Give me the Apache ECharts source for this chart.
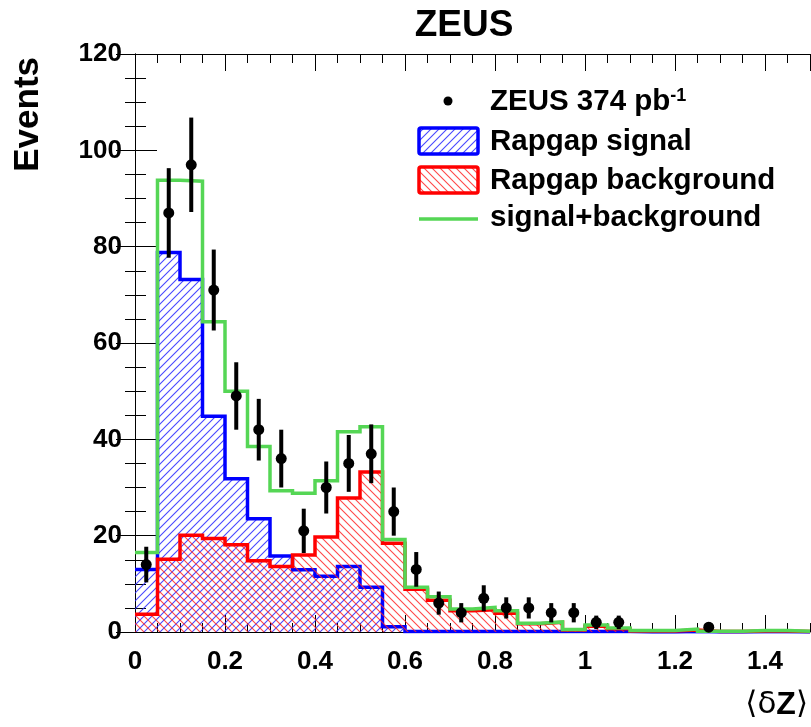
<!DOCTYPE html>
<html>
<head>
<meta charset="utf-8">
<script src="https://cdn.jsdelivr.net/npm/echarts@6/dist/echarts.min.js"></script>
<style>
  html, body { margin: 0; padding: 0; background: #fff; }
  #chart { width: 811px; height: 727px; }
</style>
</head>
<body>
<div id="chart"></div>
<script>
// histogram bins: 0 .. 1.5 in steps of 0.05
const binWidth = 0.05;

// Rapgap signal (blue)
const signal = [13.0, 78.8, 73.2, 44.8, 31.8, 23.5, 15.8, 12.9, 11.6, 13.6,
  9.3, 1.1, 0.1, 0.1, 0.1, 0.1, 0.1, 0.1, 0.1, 0.1,
  0.1, 0.1, 0, 0, 0.1, 0, 0, 0.05, 0.05, 0];

// Rapgap background (red)
const background = [3.7, 15.1, 20.1, 19.4, 18.1, 14.8, 13.6, 16.0, 19.7, 27.8,
  33.2, 18.4, 8.9, 6.6, 4.4, 4.6, 3.9, 1.7, 2.0, 0.4,
  1.2, 0.7, 0.2, 0.2, 0.4, 0.1, 0.1, 0.2, 0.2, 0.1];

// signal+background (green)
const total = [16.5, 93.8, 93.6, 64.4, 50.0, 38.5, 29.3, 28.8, 31.4, 41.6,
  42.6, 19.2, 9.3, 7.3, 4.8, 5.1, 4.4, 1.8, 2.1, 0.5,
  1.45, 0.85, 0.3, 0.3, 0.6, 0.15, 0.15, 0.3, 0.3, 0.15];

// ZEUS data points
const dataX = [0.025, 0.075, 0.125, 0.175, 0.225, 0.275, 0.325, 0.375, 0.425, 0.475,
  0.525, 0.575, 0.625, 0.675, 0.725, 0.775, 0.825, 0.875, 0.925, 0.975,
  1.025, 1.075, 1.275];
const dataY = [14, 87, 97, 71, 49, 42, 36, 21, 30, 35,
  37, 25, 13, 6, 4, 7, 5, 5, 4, 4,
  2, 2, 1];
const dataErr = [3.7, 9.3, 9.8, 8.4, 7.0, 6.4, 6.0, 4.6, 5.4, 5.9,
  6.1, 5.0, 3.6, 2.4, 2.0, 2.7, 2.2, 2.2, 2.0, 2.0,
  1.4, 1.4, 1.0];

const legendLabels = ['Rapgap signal', 'Rapgap background', 'signal+background'];

const FONT = '"Liberation Sans", Arial, Helvetica, sans-serif';
const BLUE = '#0000ff';
const RED = '#ff0000';
const GREEN = '#55d655';

function hatch(color, dir) {
  const c = document.createElement('canvas');
  c.width = 8;
  c.height = 8;
  const g = c.getContext('2d');
  g.strokeStyle = color;
  g.lineWidth = 1.1;
  g.beginPath();
  if (dir > 0) {
    g.moveTo(0, 8); g.lineTo(8, 0);
    g.moveTo(-1, 1); g.lineTo(1, -1);
    g.moveTo(7, 9); g.lineTo(9, 7);
  } else {
    g.moveTo(0, 0); g.lineTo(8, 8);
    g.moveTo(7, -1); g.lineTo(9, 1);
    g.moveTo(-1, 7); g.lineTo(1, 9);
  }
  g.stroke();
  return c;
}

const blueHatch = { image: hatch('rgba(40,40,255,0.85)', 1), repeat: 'repeat' };
const redHatch = { image: hatch('rgba(255,40,40,0.85)', -1), repeat: 'repeat' };

// left bin edges + closing point for step lines
function stepData(vals) {
  const d = vals.map((v, i) => [i * binWidth, v]);
  d.push([vals.length * binWidth, vals[vals.length - 1]]);
  return d;
}

const chart = echarts.init(document.getElementById('chart'));

const tickLine = { color: '#000', width: 1 };

chart.setOption({
  animation: false,
  backgroundColor: '#fff',
  grid: { left: 135, top: 54, right: 1, bottom: 95 },
  xAxis: [
    {
      type: 'value', position: 'bottom', min: 0, max: 1.5, interval: 0.2,
      axisLine: { show: true, lineStyle: tickLine },
      axisTick: { inside: true, length: 17, lineStyle: tickLine },
      axisLabel: { fontFamily: FONT, fontWeight: 'bold', fontSize: 26, color: '#000', margin: 17, showMaxLabel: false },
      splitLine: { show: false }
    },
    {
      type: 'value', position: 'bottom', min: 0, max: 1.5, interval: 0.05,
      axisLine: { show: false },
      axisTick: { inside: true, length: 9, lineStyle: tickLine },
      axisLabel: { show: false },
      splitLine: { show: false }
    },
    {
      type: 'value', position: 'top', min: 0, max: 1.5, interval: 0.2,
      axisLine: { show: true, lineStyle: tickLine },
      axisTick: { inside: true, length: 17, lineStyle: tickLine },
      axisLabel: { show: false },
      splitLine: { show: false }
    },
    {
      type: 'value', position: 'top', min: 0, max: 1.5, interval: 0.05,
      axisLine: { show: false },
      axisTick: { inside: true, length: 9, lineStyle: tickLine },
      axisLabel: { show: false },
      splitLine: { show: false }
    }
  ],
  yAxis: [
    {
      type: 'value', position: 'left', min: 0, max: 120, interval: 20,
      axisLine: { show: true, lineStyle: tickLine },
      axisTick: { inside: true, length: 22, lineStyle: tickLine },
      minorTick: { show: true, splitNumber: 4, length: 11, lineStyle: tickLine },
      axisLabel: { fontFamily: FONT, fontWeight: 'bold', fontSize: 26, color: '#000', margin: 13 },
      splitLine: { show: false }
    },
    {
      type: 'value', position: 'right', min: 0, max: 120, interval: 20,
      axisLine: { show: true, lineStyle: tickLine },
      axisTick: { inside: true, length: 19, lineStyle: tickLine },
      minorTick: { show: true, splitNumber: 4, length: 10, lineStyle: tickLine },
      axisLabel: { show: false },
      splitLine: { show: false }
    }
  ],
  series: [
    {
      name: legendLabels[0], type: 'line', step: 'end', data: stepData(signal),
      symbol: 'none', silent: true, z: 2,
      lineStyle: { color: BLUE, width: 3.5, join: 'miter' },
      areaStyle: { color: blueHatch, opacity: 1 }
    },
    {
      name: legendLabels[1], type: 'line', step: 'end', data: stepData(background),
      symbol: 'none', silent: true, z: 3,
      lineStyle: { color: RED, width: 3.5, join: 'miter' },
      areaStyle: { color: redHatch, opacity: 1 }
    },
    {
      name: legendLabels[2], type: 'line', step: 'end', data: stepData(total),
      symbol: 'none', silent: true, z: 4,
      lineStyle: { color: GREEN, width: 3.5, join: 'miter' }
    },
    {
      name: 'ZEUS', type: 'custom', z: 10, silent: true,
      data: dataX.map((x, i) => [x, dataY[i], dataErr[i]]),
      encode: { x: 0, y: 1 },
      renderItem: function (params, api) {
        const x = api.value(0), y = api.value(1), e = api.value(2);
        const c = api.coord([x, y]);
        const t = api.coord([x, y + e]);
        const b = api.coord([x, Math.max(0, y - e)]);
        return {
          type: 'group',
          children: [
            { type: 'line', shape: { x1: c[0], y1: t[1], x2: c[0], y2: b[1] }, style: { stroke: '#000', lineWidth: 4 } },
            { type: 'circle', shape: { cx: c[0], cy: c[1], r: 5.5 }, style: { fill: '#000' } }
          ]
        };
      }
    }
  ],
  graphic: [
    {
      type: 'text', x: 464, y: 26,
      style: { text: 'ZEUS', font: 'bold 37px ' + FONT, fill: '#000', align: 'center', verticalAlign: 'middle' }
    },
    {
      type: 'text', x: 28, y: 57, rotation: Math.PI / 2,
      style: { text: 'Events', font: 'bold 35px ' + FONT, fill: '#000', align: 'right', verticalAlign: 'middle' }
    },
    {
      type: 'text', x: 808, y: 705,
      style: {
        text: '{r|⟨δ}{b|Z}{r|⟩}', align: 'right', verticalAlign: 'middle', fill: '#000',
        rich: {
          r: { fontFamily: '"DejaVu Sans", sans-serif', fontSize: 31, fill: '#000' },
          b: { fontFamily: FONT, fontWeight: 'bold', fontSize: 32, fill: '#000' }
        }
      }
    },
    // legend
    { type: 'circle', shape: { cx: 448, cy: 101, r: 4.5 }, style: { fill: '#000' } },
    {
      type: 'text', x: 490, y: 102,
      style: {
        text: '{a|ZEUS 374 pb}{s|-1}', verticalAlign: 'middle', fill: '#000',
        rich: {
          a: { fontFamily: FONT, fontWeight: 'bold', fontSize: 29.5, fill: '#000' },
          s: { fontFamily: FONT, fontWeight: 'bold', fontSize: 18, fill: '#000', verticalAlign: 'top' }
        }
      }
    },
    {
      type: 'rect', shape: { x: 419, y: 128, width: 59, height: 26, r: 2 },
      style: { fill: blueHatch, stroke: BLUE, lineWidth: 3.5 }
    },
    {
      type: 'text', x: 490, y: 142,
      style: { text: legendLabels[0], font: 'bold 29.5px ' + FONT, fill: '#000', verticalAlign: 'middle' }
    },
    {
      type: 'rect', shape: { x: 419, y: 167, width: 59, height: 26, r: 2 },
      style: { fill: redHatch, stroke: RED, lineWidth: 3.5 }
    },
    {
      type: 'text', x: 490, y: 181,
      style: { text: legendLabels[1], font: 'bold 29.5px ' + FONT, fill: '#000', verticalAlign: 'middle' }
    },
    {
      type: 'line', shape: { x1: 419, y1: 219, x2: 478, y2: 219 },
      style: { stroke: GREEN, lineWidth: 3.5 }
    },
    {
      type: 'text', x: 490, y: 218,
      style: { text: legendLabels[2], font: 'bold 29.5px ' + FONT, fill: '#000', verticalAlign: 'middle' }
    }
  ]
});

window.addEventListener('resize', () => chart.resize());
</script>
</body>
</html>
